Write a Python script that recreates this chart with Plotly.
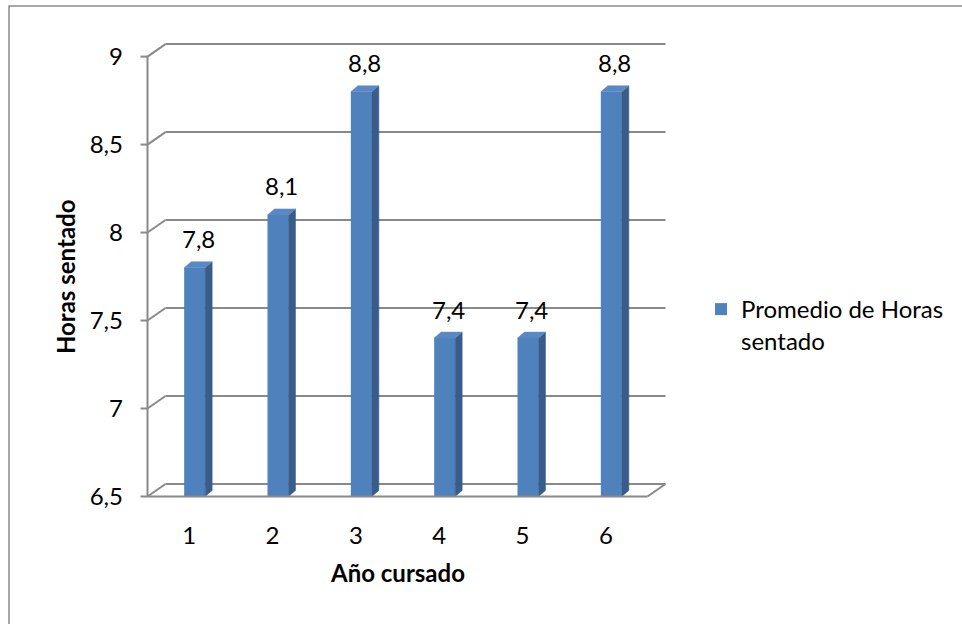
import plotly.graph_objects as go

# ---- data -------------------------------------------------------------
anios = [1, 2, 3, 4, 5, 6]
anio_labels = ["1", "2", "3", "4", "5", "6"]
horas = [7.8, 8.1, 8.8, 7.4, 7.4, 8.8]
y_ticks = [6.5, 7, 7.5, 8, 8.5, 9]
y_tick_labels = ["6,5", "7", "7,5", "8", "8,5", "9"]
serie = "Promedio de Horas<br>sentado"
titulo_x = "Año cursado"
titulo_y = "Horas sentado"

# ---- geometry of the pseudo-3D frame ----------------------------------
W, H = 962, 624
ML, MR, MT, MB = 135, 292, 39, 124
XR = [0.35, 6.77]
YR = [6.48, 9.10]
px_x = (W - ML - MR) / (XR[1] - XR[0])   # pixels per x unit
px_y = (H - MT - MB) / (YR[1] - YR[0])   # pixels per y unit

Y_MIN, Y_MAX = y_ticks[0], y_ticks[-1]
X_LO, X_HI = anios[0] - 0.5, anios[-1] + 0.5

WALL_DX, WALL_DY = 18 / px_x, 12.5 / px_y   # depth of the back wall
BAR_DX, BAR_DY = 7 / px_x, 6 / px_y         # depth of each column
BAR_W = 21 / px_x
BAR_OFF = 5.5 / px_x
TICK_LEN = 7 / px_x

FONT = "Lato"
FS = 24
GRID = "#898989"
FRONT = "#4F81BD"
SIDE = "#385D8A"
TOP = "#5A88C4"

fig = go.Figure()

# front faces of the columns
bar_x = [a + BAR_OFF for a in anios]
fig.add_trace(go.Bar(
    x=bar_x, y=[h - Y_MIN for h in horas], base=Y_MIN, width=BAR_W,
    marker=dict(color=FRONT, line=dict(width=0)),
    name=serie, hoverinfo="skip",
))

# side and top faces of the columns
side_x, side_y, top_x, top_y = [], [], [], []
for xc, h in zip(bar_x, horas):
    xl, xr = xc - BAR_W / 2, xc + BAR_W / 2
    side_x += [xr, xr + BAR_DX, xr + BAR_DX, xr, xr, None]
    side_y += [Y_MIN, Y_MIN + BAR_DY, h + BAR_DY, h, Y_MIN, None]
    top_x += [xl, xr, xr + BAR_DX, xl + BAR_DX, xl, None]
    top_y += [h, h, h + BAR_DY, h + BAR_DY, h, None]

fig.add_trace(go.Scatter(x=side_x, y=side_y, mode="lines", fill="toself",
                         fillcolor=SIDE, line=dict(color=SIDE, width=0.5),
                         showlegend=False, hoverinfo="skip"))
fig.add_trace(go.Scatter(x=top_x, y=top_y, mode="lines", fill="toself",
                         fillcolor=TOP, line=dict(color=TOP, width=0.5),
                         showlegend=False, hoverinfo="skip"))

# walls, floor, axis line and ticks
shapes = []
def seg(x0, y0, x1, y1, layer="below"):
    shapes.append(dict(type="line", xref="x", yref="y", x0=x0, y0=y0,
                       x1=x1, y1=y1, layer=layer,
                       line=dict(color=GRID, width=2)))

for v in y_ticks:
    seg(X_LO - TICK_LEN, v, X_LO, v)
    seg(X_LO, v, X_LO + WALL_DX, v + WALL_DY)
    seg(X_LO + WALL_DX, v + WALL_DY, X_HI + WALL_DX, v + WALL_DY)
seg(X_LO, Y_MIN, X_LO, Y_MAX)
seg(X_HI, Y_MIN, X_HI + WALL_DX, Y_MIN + WALL_DY)
seg(X_LO, Y_MIN, X_HI, Y_MIN, layer="above")

# chart-area border
shapes.append(dict(type="rect", xref="paper", yref="paper",
                   x0=(9 - ML) / (W - ML - MR), x1=1.8,
                   y0=-0.5, y1=(H - MB - 6) / (H - MT - MB),
                   line=dict(color="#8a8a8a", width=1.5), layer="below"))

# value labels
annotations = []
for xc, h in zip(bar_x, horas):
    annotations.append(dict(
        x=xc + BAR_DX / 2, y=h, xref="x", yref="y", yshift=29,
        text=f"{h:.1f}".replace(".", ","), showarrow=False,
        font=dict(family=FONT, size=FS, color="#000000"),
    ))

# axis titles
annotations.append(dict(
    x=X_LO, y=(Y_MIN + Y_MAX) / 2, xref="x", yref="y", xshift=-82,
    text=f"<b>{titulo_y}</b>", textangle=-90, showarrow=False,
    font=dict(family=FONT, size=FS, color="#000000"),
))
annotations.append(dict(
    x=(X_LO + X_HI) / 2, y=Y_MIN, xref="x", yref="y", yshift=-76,
    text=f"<b>{titulo_x}</b>", showarrow=False,
    font=dict(family=FONT, size=FS, color="#000000"),
))

fig.update_layout(
    width=W, height=H,
    margin=dict(l=ML, r=MR, t=MT, b=MB, pad=0),
    paper_bgcolor="white", plot_bgcolor="white",
    font=dict(family=FONT, size=FS, color="#000000"),
    showlegend=True,
    legend=dict(x=1.058, xanchor="left", y=0.462, yanchor="top",
                valign="top", font=dict(family=FONT, size=FS),
                bgcolor="rgba(0,0,0,0)"),
    xaxis=dict(range=XR, tickvals=anios, ticktext=anio_labels,
               showgrid=False, zeroline=False, showline=False, ticks="",
               ticklabelstandoff=19, fixedrange=True),
    yaxis=dict(range=YR, tickvals=y_ticks, ticktext=y_tick_labels,
               showgrid=False, zeroline=False, showline=False, ticks="",
               ticklabelstandoff=11, fixedrange=True),
    shapes=shapes,
    annotations=annotations,
)

fig.write_html("out.html")
